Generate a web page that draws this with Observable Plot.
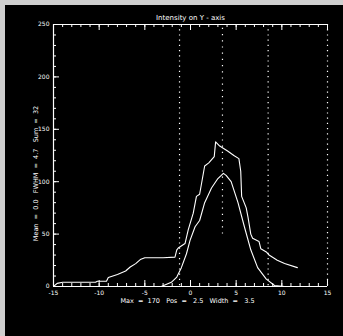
<!DOCTYPE html>
<html><head><meta charset="utf-8">
<script src="https://cdn.jsdelivr.net/npm/d3@7"></script>
<script src="https://cdn.jsdelivr.net/npm/@observablehq/plot@0.6"></script>
<style>
html,body{margin:0;padding:0;background:#000;}
#wrap{width:343px;height:336px;box-sizing:border-box;border-top:5px solid #cfcfcf;border-left:5px solid #cfcfcf;background:#000;overflow:hidden}
</style></head><body><div id="wrap"></div>
<script>
const title = "Intensity on Y - axis";
const yLabel = "Mean\u00a0 = \u00a00.0\u00a0 \u00a0FWHM\u00a0 = \u00a04.7\u00a0 \u00a0Sum\u00a0 = \u00a032";
const xLabel = "Max\u00a0 = \u00a0170\u00a0 \u00a0Pos\u00a0 = \u00a0 2.5\u00a0 \u00a0Width\u00a0 = \u00a0 3.5";

const xTicks = [-15, -10, -5, 0, 5, 10, 15];
const xMinor = d3.range(-15, 15.01, 1);
const yTicks = [0, 50, 100, 150, 200, 250];
const yMinor = d3.range(0, 250.01, 10);

// wide (stepped) profile
const outerX = [-15, -14.6, -14, -12, -10.4, -10.2, -9.2, -9.0, -8.0, -7.1, -6.6, -6.0, -5.5, -5.0, -3.0, -1.7, -1.5, -1.3, -0.6, -0.25, 0.3, 0.65, 1.0, 1.55, 2.0, 2.6, 2.75, 3.2, 4.1, 4.75, 5.3, 5.5, 5.6, 6.1, 6.3, 6.6, 6.8, 7.5, 7.7, 8.3, 8.6, 9.5, 10.3, 11.7];
const outerY = [0, 3, 4, 4, 4, 5, 5, 8.5, 11.5, 14.8, 18.6, 21.8, 25.7, 27.5, 27.5, 28, 35, 37, 41, 54, 70, 86, 88, 115, 118, 124, 138, 134, 129, 125, 122, 110, 86, 75, 66, 50, 46, 43, 36, 33, 30, 25, 22, 18];
// narrow (smooth) profile
const innerX = [-15, -3.2, -2.1, -1.5, -1.0, -0.45, -0.05, 0.5, 1.0, 1.55, 2.3, 3.0, 3.6, 3.9, 4.45, 5.2, 5.9, 6.6, 7.35, 8.3, 9.2, 10.3, 11.2];
const innerY = [0, 0, 4, 9, 18, 31, 44, 57, 63, 80, 94, 103, 108, 106, 100, 80, 57, 35, 18, 7, 1, 0, 0];

const dottedX = [-1.2, 8.5, 15];
const partialDotted = [{x: 3.5, y1: 50, y2: 250}];

const outer = outerX.map((x, i) => ({x, y: outerY[i]}));
const inner = innerX.map((x, i) => ({x, y: innerY[i]}));

const W = 338, H = 331, mL = 48, mR = 16, mT = 19, mB = 50;
const pw = W - mL - mR, ph = H - mT - mB;
const ink = "#ffffff";
const font = "DejaVu Sans";

const plot = Plot.plot({
  width: W, height: H,
  marginLeft: mL, marginRight: mR, marginTop: mT, marginBottom: mB,
  style: {background: "#000", color: ink, fontFamily: font},
  x: {domain: [-15, 15], axis: null},
  y: {domain: [0, 250], axis: null},
  marks: [
    Plot.axisX(xTicks, {anchor: "bottom", tickSize: 0, tickPadding: 4, fontSize: 6, fill: ink, tickFormat: d => String(d), label: null}),
    Plot.axisY(yTicks, {anchor: "left", tickSize: 0, tickPadding: 4, fontSize: 6, fill: ink, tickFormat: d => String(d), label: null}),
    // frame
    Plot.ruleY([0], {stroke: ink, strokeWidth: 1.2}),
    Plot.ruleY([250], {stroke: ink, strokeWidth: 1.2}),
    Plot.ruleX([-15], {stroke: ink, strokeWidth: 1.2}),
    // ticks (inward, mirrored)
    Plot.ruleX(xTicks, {insetTop: ph - 6, stroke: ink}),
    Plot.ruleX(xTicks, {insetBottom: ph - 6, stroke: ink}),
    Plot.ruleX(xMinor, {insetTop: ph - 3, stroke: ink}),
    Plot.ruleX(xMinor, {insetBottom: ph - 3, stroke: ink}),
    Plot.ruleY(yTicks, {insetRight: pw - 6, stroke: ink}),
    Plot.ruleY(yMinor, {insetRight: pw - 3, stroke: ink}),
    // dotted verticals
    Plot.ruleX(dottedX, {stroke: ink, strokeDasharray: "1.2,4", strokeWidth: 1.2}),
    Plot.ruleX(partialDotted, {x: "x", y1: "y1", y2: "y2", stroke: ink, strokeDasharray: "1.2,5", strokeWidth: 1.2}),
    // profiles
    Plot.line(outer, {x: "x", y: "y", stroke: ink, strokeWidth: 1.1}),
    Plot.line(inner, {x: "x", y: "y", stroke: ink, strokeWidth: 1.1}),
    // titles
    Plot.text([title], {frameAnchor: "top", dy: -9, fontSize: 7, fill: ink}),
    Plot.text([xLabel], {frameAnchor: "bottom", dy: 16, dx: -3, fontSize: 6.5, fill: ink}),
    Plot.text([yLabel], {frameAnchor: "left", dx: -18, dy: 18, rotate: -90, textAnchor: "middle", fontSize: 6.5, fill: ink})
  ]
});
document.getElementById("wrap").appendChild(plot);
</script></body></html>
